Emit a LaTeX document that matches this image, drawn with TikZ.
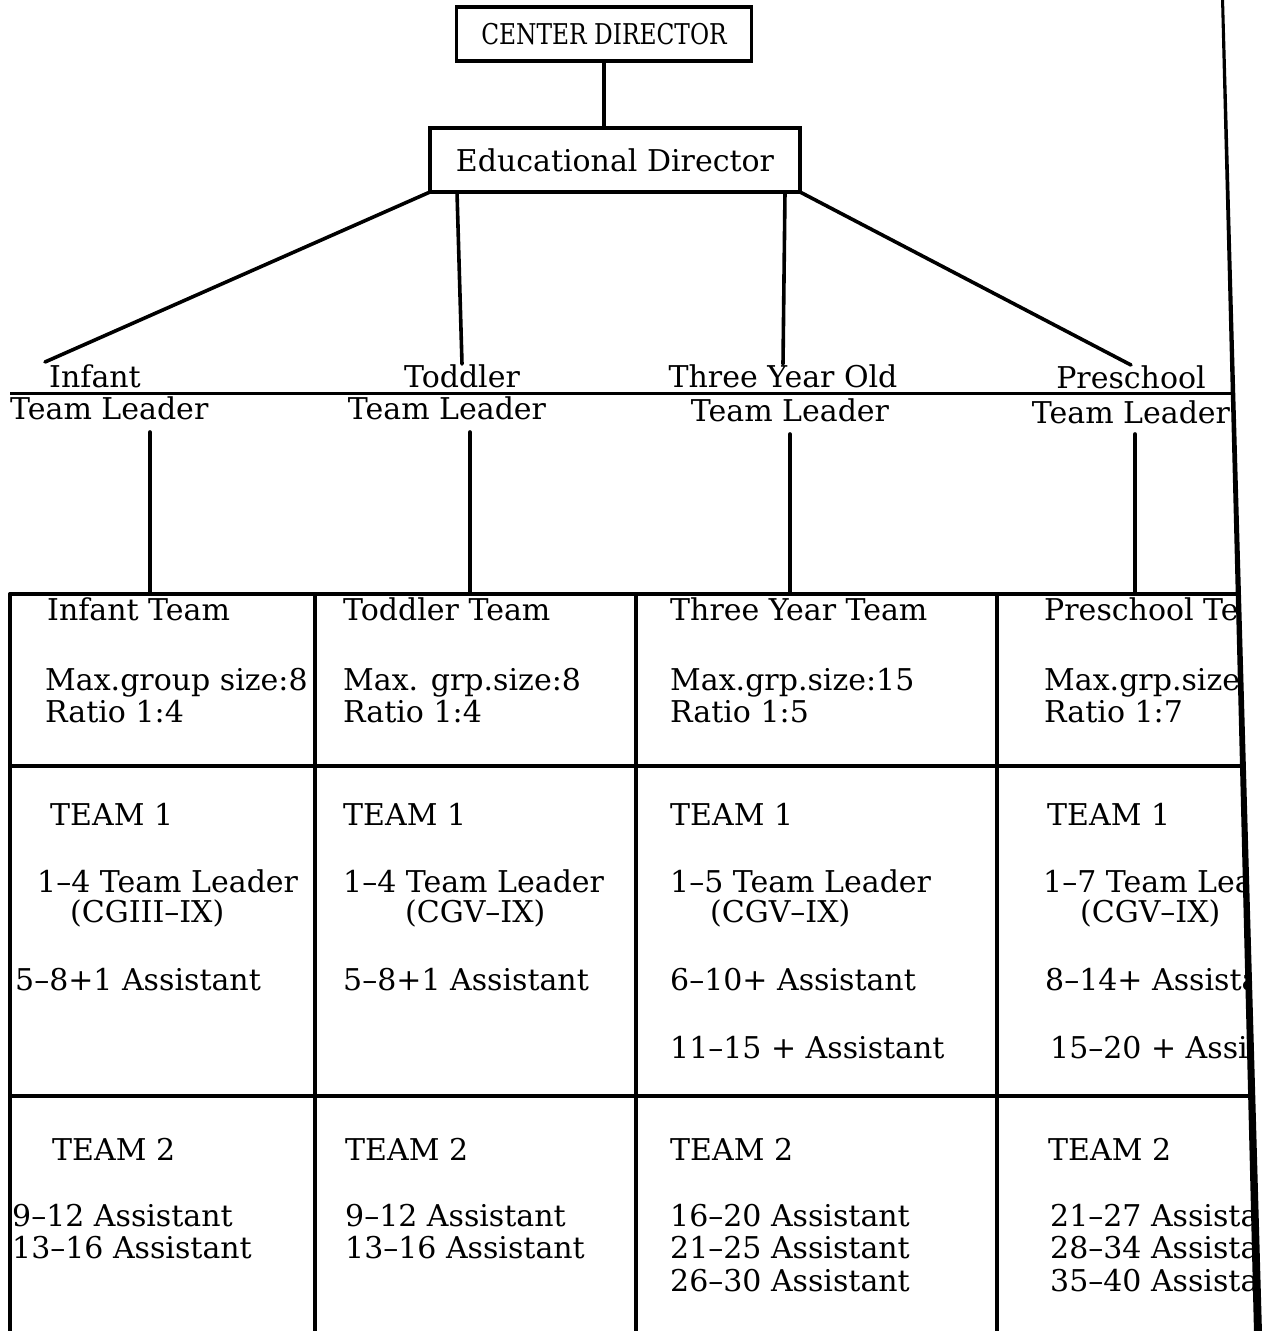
\documentclass[tikz,border=0pt]{standalone}
\usepackage{fontspec}
\setmainfont{DejaVu Serif}
\begin{document}
\begin{tikzpicture}[x=1pt,y=-1pt,
  ln/.style={line width=3.6pt, line cap=round},
  tx/.style={anchor=base west, inner sep=0pt, font=\fontsize{30}{32}\selectfont},
  lbl/.style={anchor=base, inner sep=0pt, font=\fontsize{30}{32}\selectfont},
  boxn/.style={draw, line width=3.6pt, inner sep=0pt}]
\useasboundingbox (0,0) rectangle (1266,1331);
\fill[white] (0,0) rectangle (1266,1331);
\begin{scope}
\clip (0,0) -- (1222,0) -- (1257,1331) -- (0,1331) -- cycle;
% top boxes
\node[boxn, minimum width=295pt, minimum height=54pt, font=\fontsize{22}{26}\selectfont] (cd) at (604,34) {\scalebox{1.06}[1.3]{CENTER DIRECTOR}};
\node[boxn, minimum width=370pt, minimum height=64pt, font=\fontsize{30}{32}\selectfont] (ed) at (615,160) {Educational Director};
\draw[ln] (cd.south) -- (cd.south |- ed.north);
% group labels
\node[lbl] (gInf) at (95,387) {Infant};
\node[lbl] (gTod) at (462,387) {Toddler};
\node[lbl] (gThr) at (783,387) {Three Year Old};
\node[lbl] (gPre) at (1131,388) {Preschool};
\node[tx] (lInf) at (10,419) {Team Leader};
\node[lbl] (lTod) at (447,419) {Team Leader};
\node[lbl] (lThr) at (790,421) {Team Leader};
\node[lbl] (lPre) at (1131,423) {Team Leader};
\coordinate (edA) at (430,192);
\coordinate (edB) at (457,192);
\coordinate (edC) at (785,192);
\coordinate (edD) at (800,192);
\draw[ln] (edA) -- (45,362);
\draw[ln] (edB) -- (gTod.north);
\draw[ln] (edC) -- (gThr.north);
\draw[ln] (edD) -- (gPre.north);
% divider line
\coordinate (hl) at (10,393);
\draw[line width=3pt] (hl) -- (1240,393);
% grid
\coordinate (cA) at (150,594);
\coordinate (cB) at (470,594);
\coordinate (cC) at (790,594);
\coordinate (cD) at (1135,594);
\draw[ln] (150,432) -- (cA);
\draw[ln] (470,432) -- (cB);
\draw[ln] (790,434) -- (cC);
\draw[ln] (1135,434) -- (cD);
\draw[ln] (10,594) -- (1260,594);
\draw[ln] (10,766) -- (1260,766);
\draw[ln] (10,1096) -- (1260,1096);
\draw[ln] (10,594) -- (10,1335);
\draw[ln] (315,594) -- (315,1335);
\draw[ln] (636,594) -- (636,1335);
\draw[ln] (997,594) -- (997,1335);
% row 1
\node[tx] (a1) at (47,620) {Infant Team};
\node[tx] (a2) at (45,690) {Max.group size:8};
\node[tx] (a3) at (45,722) {Ratio 1:4};
\node[tx] (b1) at (343,620) {Toddler Team};
\node[tx] (b2) at (343,690) {Max. grp.size:8};
\node[tx] (b3) at (343,722) {Ratio 1:4};
\node[tx] (c1) at (670,620) {Three Year Team};
\node[tx] (c2) at (670,690) {Max.grp.size:15};
\node[tx] (c3) at (670,722) {Ratio 1:5};
\node[tx] (d1) at (1044,620) {Preschool Team};
\node[tx] (d2) at (1044,690) {Max.grp.size:20};
\node[tx] (d3) at (1044,722) {Ratio 1:7};
% row 2
\node[tx] (a4) at (50,825) {TEAM 1};
\node[tx] (a5) at (37,892) {1–4 Team Leader};
\node[tx] (a6) at (70,922) {(CGIII–IX)};
\node[tx] (a7) at (15,990) {5–8+1 Assistant};
\node[tx] (b4) at (343,825) {TEAM 1};
\node[tx] (b5) at (343,892) {1–4 Team Leader};
\node[tx] (b6) at (405,922) {(CGV–IX)};
\node[tx] (b7) at (343,990) {5–8+1 Assistant};
\node[tx] (c4) at (670,825) {TEAM 1};
\node[tx] (c5) at (670,892) {1–5 Team Leader};
\node[tx] (c6) at (710,922) {(CGV–IX)};
\node[tx] (c7) at (670,990) {6–10+ Assistant};
\node[tx] (c8) at (670,1058) {11–15 + Assistant};
\node[tx] (d4) at (1047,825) {TEAM 1};
\node[tx] (d5) at (1043,892) {1–7 Team Leader};
\node[tx] (d6) at (1080,922) {(CGV–IX)};
\node[tx] (d7) at (1045,990) {8–14+ Assistant};
\node[tx] (d8) at (1050,1058) {15–20 + Assistant};
% row 3
\node[tx] (a9) at (52,1160) {TEAM 2};
\node[tx] (a10) at (12,1226) {9–12 Assistant};
\node[tx] (a11) at (12,1258) {13–16 Assistant};
\node[tx] (b9) at (345,1160) {TEAM 2};
\node[tx] (b10) at (345,1226) {9–12 Assistant};
\node[tx] (b11) at (345,1258) {13–16 Assistant};
\node[tx] (c9) at (670,1160) {TEAM 2};
\node[tx] (c10) at (670,1226) {16–20 Assistant};
\node[tx] (c11) at (670,1258) {21–25 Assistant};
\node[tx] (c12) at (670,1291) {26–30 Assistant};
\node[tx] (d9) at (1048,1160) {TEAM 2};
\node[tx] (d10) at (1050,1226) {21–27 Assistant};
\node[tx] (d11) at (1050,1258) {28–34 Assistant};
\node[tx] (d12) at (1050,1291) {35–40 Assistant};
\end{scope}
% right edge
\fill (1221,-2) -- (1224,-2) -- (1262,1333) -- (1254,1333) -- cycle;
\end{tikzpicture}
\end{document}
